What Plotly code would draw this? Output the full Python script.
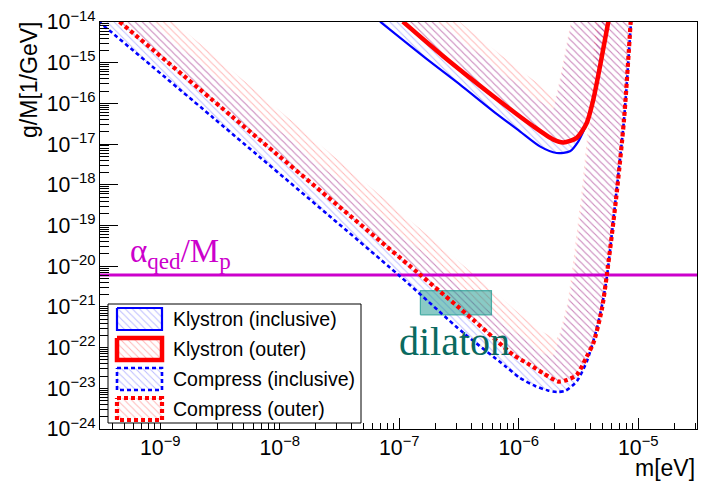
import numpy as np
import plotly.graph_objects as go

# ---------------- data ----------------
# axis ranges (log10 of m[eV] and g/M[1/GeV])
X_RANGE = [-9.505, -4.509]
Y_RANGE = [-24.0, -14.0]

# Klystron (inclusive) -- blue solid
kly_inc_m = [6.90e-8, 1.69e-7, 3.22e-7, 6.12e-7, 1.02e-6, 1.50e-6, 2.07e-6,
             2.68e-6, 3.15e-6, 3.47e-6, 3.70e-6, 4.20e-6, 4.78e-6, 5.61e-6]
kly_inc_g = [1.02e-14, 1.24e-15, 2.90e-16, 6.40e-17, 2.06e-17, 8.81e-18, 6.05e-18,
             6.64e-18, 1.17e-17, 2.06e-17, 3.31e-17, 1.24e-16, 8.18e-16, 1.02e-14]

# Klystron (outer) -- red thick solid
kly_out_m = [1.07e-7, 2.33e-7, 6.12e-7, 1.32e-6, 1.95e-6, 2.36e-6, 3.05e-6,
             3.70e-6, 4.20e-6, 4.78e-6, 5.61e-6]
kly_out_g = [1.02e-14, 1.44e-15, 1.50e-16, 2.74e-17, 1.29e-17, 1.10e-17, 1.42e-17,
             3.31e-17, 1.24e-16, 8.18e-16, 1.02e-14]

# Compress (inclusive) -- blue dashed
cmp_inc_m = [3.02e-10, 2.78e-9, 9.82e-8, 3.44e-7, 7.67e-7, 1.02e-6, 1.37e-6,
             1.75e-6, 2.09e-6, 2.48e-6, 3.07e-6, 3.72e-6, 4.51e-6, 5.07e-6,
             5.47e-6, 6.45e-6, 7.59e-6, 8.69e-6]
cmp_inc_g = [1.05e-14, 4.40e-17, 6.14e-21, 2.30e-22, 3.55e-23, 1.80e-23, 1.14e-23,
             8.85e-24, 8.13e-24, 8.85e-24, 1.52e-23, 4.71e-23, 3.05e-22, 1.49e-21,
             5.81e-21, 4.30e-19, 3.99e-17, 1.02e-14]

# Compress (outer) -- red dotted
cmp_out_m = [4.55e-10, 3.96e-9, 1.44e-7, 4.16e-7, 8.99e-7, 1.24e-6, 1.60e-6,
             2.14e-6, 2.52e-6, 3.05e-6, 3.70e-6, 4.20e-6, 4.94e-6, 5.44e-6,
             6.50e-6, 7.59e-6, 8.63e-6]
cmp_out_g = [1.02e-14, 4.82e-17, 6.76e-21, 4.80e-22, 6.61e-23, 3.75e-23, 2.34e-23,
             1.46e-23, 1.60e-23, 2.13e-23, 6.01e-23, 1.28e-22, 8.45e-22, 5.81e-21,
             4.30e-19, 3.99e-17, 1.02e-14]

# alpha_qed / M_p horizontal line
alpha_g = 6.1e-21

# dilaton box
dil_m = [1.5e-7, 5.9e-7]
dil_g = [6.4e-22, 2.5e-21]

legend_names = ["Klystron (inclusive)", "Klystron (outer)",
                "Compress (inclusive)", "Compress (outer)"]

# ---------------- styling / layout ----------------
W, H = 701, 485
ML, MR, MT, MB = 100, 4, 22, 56
PW, PH = W - ML - MR, H - MT - MB
KX = PW / (X_RANGE[1] - X_RANGE[0])   # px per decade
KY = PH / (Y_RANGE[1] - Y_RANGE[0])

BLUE, RED = "#0000ff", "#ff0000"
MAG = "#cc00cc"

series = [
    dict(m=kly_inc_m, g=kly_inc_g, color=BLUE, width=2.2, dash="solid", band=36, op=0.26),
    dict(m=kly_out_m, g=kly_out_g, color=RED, width=4.5, dash="solid", band=37, op=0.28),
    dict(m=cmp_inc_m, g=cmp_inc_g, color=BLUE, width=2.6, dash="4px,3px", band=33, op=0.26),
    dict(m=cmp_out_m, g=cmp_out_g, color=RED, width=4.2, dash="4px,3px", band=35, op=0.28),
]


def band_polygon(m, g, width):
    """Hatched band of fixed pixel width on the inner (left-of-travel) side."""
    X = np.log10(np.asarray(m)) * KX
    Y = np.log10(np.asarray(g)) * KY
    P = np.column_stack([X, Y])
    T = np.zeros_like(P)
    T[1:-1] = P[2:] - P[:-2]
    T[0] = P[1] - P[0]
    T[-1] = P[-1] - P[-2]
    T /= np.linalg.norm(T, axis=1)[:, None]
    N = np.column_stack([-T[:, 1], T[:, 0]])
    Q = P + width * N
    poly = np.vstack([P, Q[::-1], P[:1]])
    return 10 ** (poly[:, 0] / KX), 10 ** (poly[:, 1] / KY)


def pattern(color, op):
    return dict(shape="\\", fgcolor=color, fgopacity=op, bgcolor="rgba(0,0,0,0)",
                size=5, solidity=0.2)


fig = go.Figure()

# hatched bands
for s in series:
    bx, by = band_polygon(s["m"], s["g"], s["band"])
    fig.add_trace(go.Scatter(x=bx, y=by, mode="none", fill="toself",
                             fillpattern=pattern(s["color"], s["op"]),
                             hoverinfo="skip", showlegend=False))

# dilaton box
fig.add_trace(go.Scatter(x=[dil_m[0], dil_m[1], dil_m[1], dil_m[0], dil_m[0]],
                         y=[dil_g[0], dil_g[0], dil_g[1], dil_g[1], dil_g[0]],
                         mode="lines", fill="toself",
                         fillcolor="rgba(20,150,140,0.5)",
                         line=dict(color="rgba(20,150,140,0.7)", width=1.2),
                         hoverinfo="skip", showlegend=False))

# alpha_qed / M_p line
fig.add_trace(go.Scatter(x=[10 ** X_RANGE[0], 10 ** X_RANGE[1]], y=[alpha_g, alpha_g],
                         mode="lines", line=dict(color=MAG, width=3),
                         hoverinfo="skip", showlegend=False))

# curves
for s in series:
    fig.add_trace(go.Scatter(x=s["m"], y=s["g"], mode="lines",
                             line=dict(color=s["color"], width=s["width"], dash=s["dash"],
                                       shape="spline", smoothing=0.7),
                             hoverinfo="skip", showlegend=False))

# ---------------- hand-drawn ROOT-style legend (pixel-unit overlay axes) -----------
LB = dict(x0=108, x1=361, y0=304, y1=423)
fig.add_trace(go.Scatter(x=[LB["x0"], LB["x1"], LB["x1"], LB["x0"], LB["x0"]],
                         y=[LB["y0"], LB["y0"], LB["y1"], LB["y1"], LB["y0"]],
                         mode="lines", fill="toself", fillcolor="white",
                         line=dict(color="black", width=1),
                         xaxis="x2", yaxis="y2", hoverinfo="skip", showlegend=False))
row_c = [319, 349, 379, 409]
for s, c, name in zip(series, row_c, legend_names):
    fig.add_trace(go.Scatter(x=[117, 162, 162, 117, 117],
                             y=[c - 11, c - 11, c + 11, c + 11, c - 11],
                             mode="lines", fill="toself",
                             fillpattern=pattern(s["color"], s["op"]),
                             line=dict(color=s["color"], width=s["width"], dash=s["dash"]),
                             xaxis="x2", yaxis="y2", hoverinfo="skip", showlegend=False))
    fig.add_annotation(x=171, y=c, xref="x2", yref="y2", text=name, showarrow=False,
                       xanchor="left", yanchor="middle",
                       font=dict(family="Liberation Sans", size=19.5, color="black"))

# ---------------- text labels ----------------
fig.add_annotation(x=np.log10(5.37e-10), y=np.log10(2.05e-20), xref="x", yref="y",
                   text="α<sub>qed</sub>/M<sub>p</sub>", showarrow=False,
                   xanchor="left", yanchor="middle",
                   font=dict(family="Liberation Serif", size=33, color=MAG))
fig.add_annotation(x=np.log10(2.87e-7), y=np.log10(1.40e-22), xref="x", yref="y",
                   text="dilaton", showarrow=False, xanchor="center", yanchor="middle",
                   font=dict(family="Liberation Serif", size=40, color="#0a6a60"))

# axis titles (ROOT style: right/top aligned)
fig.add_annotation(x=1.0, y=-0.133, xref="paper", yref="paper", text="m[eV]",
                   showarrow=False, xanchor="right", yanchor="bottom",
                   font=dict(family="Liberation Sans", size=23, color="black"))
fig.add_annotation(x=-0.119, y=1.005, xref="paper", yref="paper", text="g/M[1/GeV]",
                   showarrow=False, xanchor="center", yanchor="top", textangle=-90,
                   font=dict(family="Liberation Sans", size=23, color="black"))

axis_common = dict(type="log", dtick=1, exponentformat="power", showexponent="all",
                   ticks="inside", tickwidth=1, tickcolor="black",
                   showline=True, mirror=True, linecolor="black", linewidth=1,
                   showgrid=False, zeroline=False,
                   tickfont=dict(family="Liberation Sans", size=17, color="black"))

fig.update_layout(
    width=W, height=H,
    margin=dict(l=ML, r=MR, t=MT, b=MB),
    paper_bgcolor="white", plot_bgcolor="rgba(0,0,0,0)",
    showlegend=False,
    xaxis=dict(range=X_RANGE, ticklen=11,
               minor=dict(ticks="inside", ticklen=6, tickwidth=1, tickcolor="black",
                          dtick="D1", showgrid=False),
               **axis_common),
    yaxis=dict(range=Y_RANGE, ticklen=18,
               minor=dict(ticks="inside", ticklen=9, tickwidth=1, tickcolor="black",
                          dtick="D1", showgrid=False),
               **axis_common),
    xaxis2=dict(domain=[0, 1], range=[ML, ML + PW], visible=False, anchor="y2",
                fixedrange=True),
    yaxis2=dict(domain=[0, 1], range=[MT + PH, MT], visible=False, anchor="x2",
                fixedrange=True),
)

fig.write_html("out.html")
